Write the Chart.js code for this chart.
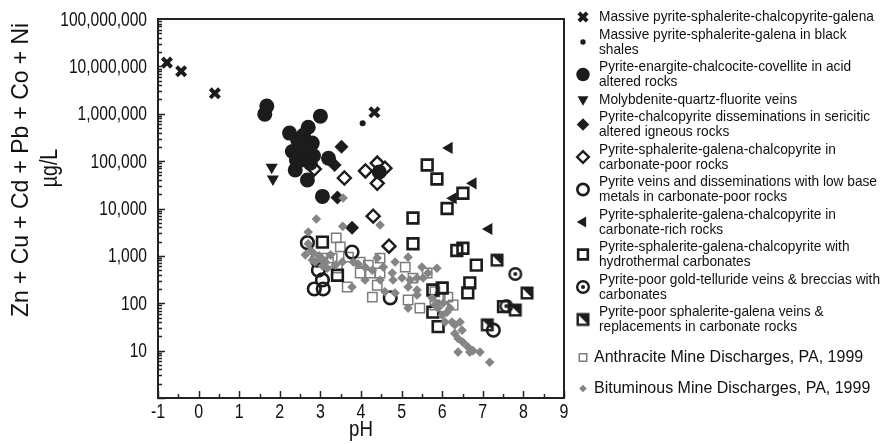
<!DOCTYPE html>
<html>
<head>
<meta charset="utf-8">
<script src="https://cdn.jsdelivr.net/npm/chart.js@4.4.1/dist/chart.umd.min.js"></script>
<style>
  html, body { margin: 0; padding: 0; background: #fff; }
  #wrap { width: 881px; height: 444px; }
</style>
</head>
<body>
<div id="wrap"><canvas id="ficklin"></canvas></div>
<script>
// pH and summed base metals (ug/L), one pair of lists per deposit type
const massiveCpyPh = [-0.78, -0.43, 0.40, 4.33];
const massiveCpyMetals = [12000000, 7900000, 2700000, 1070000];

const blackShalePh = [4.04];
const blackShaleMetals = [630000];

const acidAlteredPh = [1.68, 1.63, 3.00, 2.70, 2.24, 2.58, 2.51, 2.80, 2.31, 2.58, 2.83, 2.51, 3.20, 2.38, 2.68, 3.05, 4.45, 2.44, 2.65, 2.41, 2.75];
const acidAlteredMetals = [1450000, 980000, 890000, 520000, 390000, 350000, 240000, 240000, 160000, 155000, 130000, 105000, 115000, 65000, 40000, 18000, 59000, 280000, 190000, 105000, 90000];

const molyPh = [1.80, 1.83];
const molyMetals = [74000, 42000];

const sericiticPh = [3.52, 3.35, 3.42, 3.78];
const sericiticMetals = [200000, 83000, 17000, 3900];

const carbPoorPh = [2.85, 3.59, 4.11, 4.40, 4.59, 4.40, 4.30, 4.69];
const carbPoorMetals = [68000, 44000, 62000, 91000, 71000, 34000, 6900, 1600];

const lowBasePh = [2.68, 3.78, 2.92, 2.95, 3.05, 2.85, 3.07, 4.72, 7.26];
const lowBaseMetals = [1900, 1200, 810, 500, 310, 200, 200, 130, 27];

const carbRichPh = [6.17, 6.76, 6.27, 7.15];
const carbRichMetals = [190000, 34000, 16500, 3700];

const hydroCarbPh = [5.63, 5.87, 6.51, 6.12, 5.28, 5.28, 6.36, 6.51, 6.84, 6.68, 6.63, 3.05, 3.42, 5.77, 6.00, 5.77, 5.90, 7.51];
const hydroCarbMetals = [83000, 42000, 21000, 10000, 6300, 1800, 1300, 1450, 640, 270, 165, 1950, 390, 190, 210, 65, 32, 85];

const goldTelluridePh = [7.80, 7.58];
const goldTellurideMetals = [415, 87];

const carbReplacePh = [7.35, 8.09, 7.80, 7.11];
const carbReplaceMetals = [815, 165, 72, 35];

const anthracitePh = [3.39, 3.49, 3.69, 3.29, 3.05, 3.20, 3.42, 3.98, 4.18, 4.47, 3.98, 4.23, 4.47, 3.66, 4.40, 4.28, 5.09, 5.28, 5.63, 5.16, 5.45, 5.82, 5.95, 6.14, 6.27, 6.02, 5.82];
const anthraciteMetals = [2400, 1550, 940, 900, 900, 740, 550, 740, 640, 900, 435, 435, 435, 220, 240, 135, 580, 340, 435, 117, 79, 175, 135, 135, 92, 83, 92];

const bituminousPh = [2.90, 2.70, 4.47, 3.55, 3.56, 2.70, 2.63, 2.83, 3.00, 3.12, 2.87, 3.17, 3.37, 3.54, 3.81, 3.93, 4.10, 4.40, 4.55, 4.28, 4.84, 5.16, 5.50, 5.87, 4.77, 5.01, 5.21, 5.38, 5.53, 5.65, 4.79, 4.47, 4.10, 3.78, 4.59, 4.84, 5.16, 5.38, 5.38, 5.16, 5.75, 5.82, 5.90, 6.02, 6.12, 6.19, 6.00, 6.07, 6.24, 6.31, 6.44, 6.49, 6.31, 6.39, 6.51, 6.63, 6.76, 6.93, 6.39, 6.68, 7.17, 2.76, 2.97, 3.07, 3.25, 3.05, 2.80];
const bituminousMetals = [6000, 3200, 4500, 4200, 16600, 1800, 1050, 1150, 900, 740, 740, 550, 640, 740, 740, 670, 580, 900, 580, 500, 740, 940, 580, 550, 435, 340, 310, 340, 340, 435, 310, 310, 310, 220, 175, 165, 220, 190, 150, 79, 130, 92, 79, 100, 65, 79, 56, 40, 40, 35, 40, 27, 23, 18, 15, 12, 10, 9.3, 9.3, 9.3, 5.7, 1300, 1000, 820, 1050, 610, 820];

const legendLabels = [
  ['Massive pyrite-sphalerite-chalcopyrite-galena'],
  ['Massive pyrite-sphalerite-galena in black', 'shales'],
  ['Pyrite-enargite-chalcocite-covellite in acid', 'altered rocks'],
  ['Molybdenite-quartz-fluorite veins'],
  ['Pyrite-chalcopyrite disseminations in sericitic', 'altered igneous rocks'],
  ['Pyrite-sphalerite-galena-chalcopyrite in', 'carbonate-poor rocks'],
  ['Pyrite veins and disseminations with low base', 'metals in carbonate-poor rocks'],
  ['Pyrite-sphalerite-galena-chalcopyrite in', 'carbonate-rich rocks'],
  ['Pyrite-sphalerite-galena-chalcopyrite with', 'hydrothermal carbonates'],
  ['Pyrite-poor gold-telluride veins & breccias with', 'carbonates'],
  ['Pyrite-poor sphalerite-galena veins &', 'replacements in carbonate rocks'],
  ['Anthracite Mine Discharges, PA, 1999'],
  ['Bituminous Mine Discharges, PA, 1999']
];

const yTitle = ['Zn + Cu + Cd + Pb + Co + Ni', 'µg/L'];
const xTitle = 'pH';

const ink = '#1c1c1c';
const grey = '#7d7d7d';
const plain = "'Liberation Sans', Arial, sans-serif";

Chart.defaults.font.family = plain;
Chart.defaults.color = '#111';

function pairs(xs, ys) {
  return xs.map((x, i) => ({ x: x, y: ys[i] }));
}

// Arial squeezed sideways stands in for the condensed face of the original
function squeezed(ctx, text, x, y, size, align, sx) {
  ctx.save();
  ctx.font = size + 'px ' + plain;
  ctx.textAlign = align;
  ctx.translate(x, y);
  ctx.scale(sx, 1);
  ctx.fillText(text, 0, 0);
  ctx.restore();
}

// little bitmaps for the two symbols Chart.js has no built-in for
function makeIcon(kind) {
  const c = document.createElement('canvas');
  c.width = 16; c.height = 16;
  const g = c.getContext('2d');
  g.strokeStyle = ink; g.fillStyle = ink;
  if (kind === 'target') {
    g.lineWidth = 2.4;
    g.beginPath(); g.arc(8, 8, 5.8, 0, Math.PI * 2); g.stroke();
    g.beginPath(); g.arc(8, 8, 2, 0, Math.PI * 2); g.fill();
  } else {
    g.lineWidth = 2.4;
    g.strokeRect(2.7, 2.7, 10.6, 10.6);
    g.beginPath(); g.moveTo(2, 2); g.lineTo(14, 2); g.lineTo(14, 14); g.closePath(); g.fill();
  }
  return c;
}
const targetIcon = makeIcon('target');
const halfSquareIcon = makeIcon('half');

const styles = [
  { pointStyle: 'crossRot', radius: 6.5, rotation: 0, borderWidth: 4, fill: ink, stroke: ink },
  { pointStyle: 'circle', radius: 3, rotation: 0, borderWidth: 0, fill: ink, stroke: ink },
  { pointStyle: 'circle', radius: 7.5, rotation: 0, borderWidth: 0, fill: ink, stroke: ink },
  { pointStyle: 'triangle', radius: 7, rotation: 180, borderWidth: 0, fill: ink, stroke: ink },
  { pointStyle: 'rectRot', radius: 7, rotation: 0, borderWidth: 0, fill: ink, stroke: ink },
  { pointStyle: 'rectRot', radius: 6.5, rotation: 0, borderWidth: 2.4, fill: '#fff', stroke: ink },
  { pointStyle: 'circle', radius: 6.3, rotation: 0, borderWidth: 2.6, fill: 'rgba(0,0,0,0)', stroke: ink },
  { pointStyle: 'triangle', radius: 7, rotation: -90, borderWidth: 0, fill: ink, stroke: ink },
  { pointStyle: 'rect', radius: 7.6, rotation: 0, borderWidth: 2.6, fill: 'rgba(0,0,0,0)', stroke: ink },
  { pointStyle: targetIcon, radius: 7, rotation: 0, borderWidth: 0, fill: ink, stroke: ink },
  { pointStyle: halfSquareIcon, radius: 7, rotation: 0, borderWidth: 0, fill: ink, stroke: ink },
  { pointStyle: 'rect', radius: 6.6, rotation: 0, borderWidth: 1.5, fill: 'rgba(0,0,0,0)', stroke: grey },
  { pointStyle: 'rectRot', radius: 4.8, rotation: 0, borderWidth: 0, fill: '#858585', stroke: grey }
];

const seriesPh = [massiveCpyPh, blackShalePh, acidAlteredPh, molyPh, sericiticPh, carbPoorPh, lowBasePh,
  carbRichPh, hydroCarbPh, goldTelluridePh, carbReplacePh, anthracitePh, bituminousPh];
const seriesMetals = [massiveCpyMetals, blackShaleMetals, acidAlteredMetals, molyMetals, sericiticMetals,
  carbPoorMetals, lowBaseMetals, carbRichMetals, hydroCarbMetals, goldTellurideMetals, carbReplaceMetals,
  anthraciteMetals, bituminousMetals];

const datasets = seriesPh.map((ph, i) => {
  const s = styles[i];
  return {
    label: legendLabels[i].join(' '),
    data: pairs(ph, seriesMetals[i]),
    pointStyle: s.pointStyle,
    pointRadius: s.radius,
    pointRotation: s.rotation,
    pointBorderWidth: s.borderWidth,
    pointBorderColor: s.stroke,
    pointBackgroundColor: s.fill,
    showLine: false,
    order: i === 12 ? -1 : 0
  };
});

// frame, inward tick marks, tick labels, axis titles and the legend column
const decorations = {
  id: 'decorations',
  afterDraw(chart) {
    const ctx = chart.ctx;
    const a = chart.chartArea;
    const xs = chart.scales.x, ys = chart.scales.y;
    ctx.save();
    ctx.strokeStyle = '#222';
    ctx.lineWidth = 2;
    ctx.strokeRect(a.left, a.top, a.right - a.left, a.bottom - a.top);

    ctx.lineWidth = 1.5;
    ctx.beginPath();
    for (let e = 0; e < 8; e++) {
      for (let m = 1; m <= 9; m++) {
        const py = Math.round(ys.getPixelForValue(m * Math.pow(10, e))) + 0.5;
        ctx.moveTo(a.left, py);
        ctx.lineTo(a.left + (m === 1 ? 7 : 4), py);
      }
    }
    for (let v = -1; v <= 9; v += 0.5) {
      const px = Math.round(xs.getPixelForValue(v)) + 0.5;
      ctx.moveTo(px, a.bottom);
      ctx.lineTo(px, a.bottom - (Number.isInteger(v) ? 7 : 4));
    }
    ctx.stroke();

    ctx.fillStyle = '#111';
    ctx.textBaseline = 'middle';
    ys.ticks.forEach(t => {
      if (t.label) squeezed(ctx, t.label, a.left - 11, ys.getPixelForValue(t.value) + 1, 20, 'right', 0.78);
    });
    xs.ticks.forEach(t => {
      squeezed(ctx, String(t.label), xs.getPixelForValue(t.value), a.bottom + 14, 20, 'center', 0.8);
    });

    // axis titles
    ctx.font = '24px ' + plain;
    const w0 = ctx.measureText(yTitle[0]).width;
    ctx.save();
    ctx.translate(21, 170);
    ctx.rotate(-Math.PI / 2);
    squeezed(ctx, yTitle[0], 0, 0, 24, 'center', 294 / w0);
    ctx.restore();
    ctx.save();
    ctx.translate(51, 168);
    ctx.rotate(-Math.PI / 2);
    squeezed(ctx, yTitle[1], 0, 0, 23, 'center', 0.85);
    ctx.restore();
    squeezed(ctx, xTitle, (a.left + a.right) / 2, 430, 22, 'center', 0.85);

    // legend
    const iconX = 583;
    ctx.font = '15px ' + plain;
    const squeeze = 281 / ctx.measureText(legendLabels[9][0]).width;
    let y = 17;
    legendLabels.forEach((lines, i) => {
      const s = styles[i];
      const isPlain = i >= 11;
      if (i === 11) y += 13;
      const iconY = y + (lines.length - 1) * 7.5;
      ctx.fillStyle = s.fill;
      ctx.strokeStyle = s.stroke;
      ctx.lineWidth = s.borderWidth;
      Chart.helpers.drawPoint(ctx, {
        pointStyle: s.pointStyle,
        rotation: s.rotation,
        borderWidth: s.borderWidth,
        radius: isPlain ? s.radius * 0.8 : s.radius * 0.9
      }, iconX, iconY);
      ctx.fillStyle = '#111';
      lines.forEach((t, k) => {
        if (isPlain) squeezed(ctx, t, 594, y + k * 15, 16, 'left', 1);
        else squeezed(ctx, t, 599, y + k * 15, 15, 'left', squeeze);
      });
      y += lines.length * 15 + (isPlain ? 16 : 2.5);
    });
    ctx.restore();
  }
};

const ficklinChart = new Chart(document.getElementById('ficklin'), {
  type: 'scatter',
  data: { datasets: datasets },
  options: {
    responsive: true,
    maintainAspectRatio: false,
    animation: false,
    layout: { padding: { left: 0, top: 19, right: 317, bottom: 0 } },
    plugins: {
      legend: { display: false },
      tooltip: { enabled: false }
    },
    scales: {
      x: {
        type: 'linear',
        min: -1,
        max: 9,
        grid: { display: false, drawTicks: false },
        border: { display: false },
        ticks: { display: false, stepSize: 1 },
        afterFit: s => { s.height = 46; }
      },
      y: {
        type: 'logarithmic',
        min: 1,
        max: 100000000,
        grid: { display: false, drawTicks: false },
        border: { display: false },
        ticks: {
          display: false,
          autoSkip: false,
          callback: v => {
            const l = Math.log10(v);
            return (Math.abs(l - Math.round(l)) < 1e-9 && l >= 1) ? Number(v).toLocaleString('en-US') : '';
          }
        },
        afterFit: s => { s.width = 158; }
      }
    }
  },
  plugins: [decorations]
});
</script>
</body>
</html>
